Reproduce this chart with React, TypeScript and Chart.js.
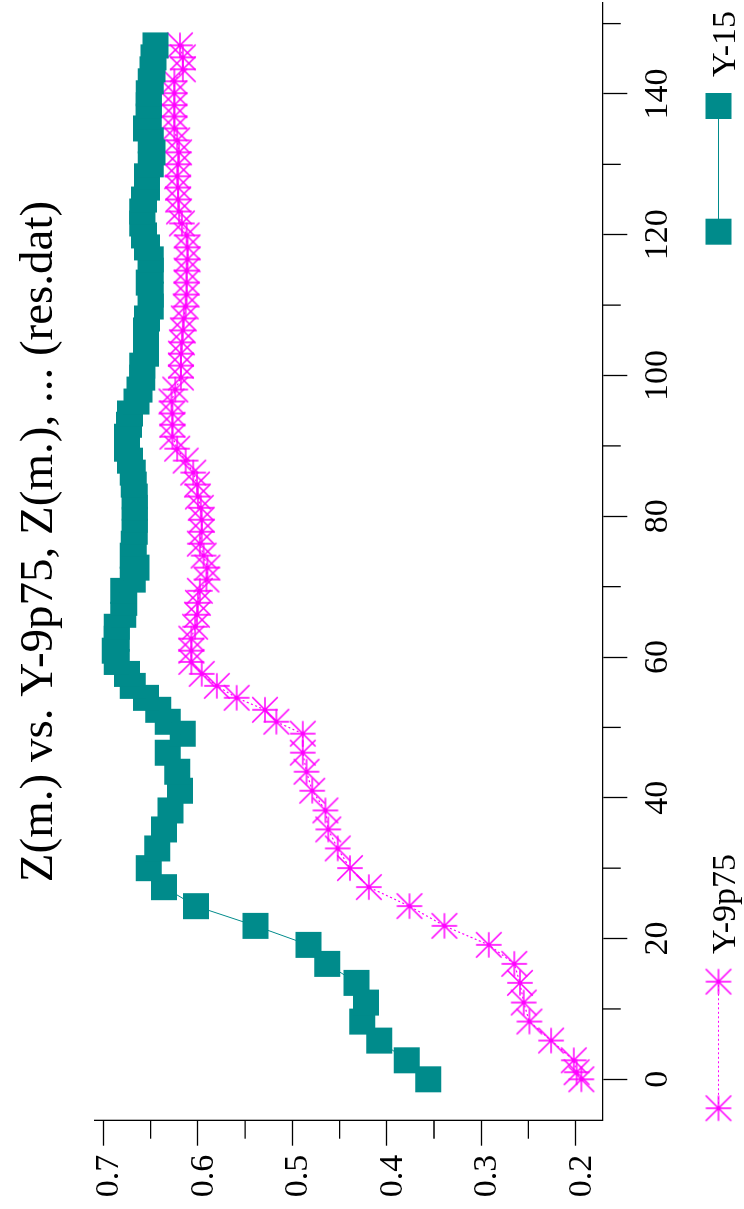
import React, { useEffect, useRef } from "react";
import { Chart, registerables } from "chart.js";
Chart.register(...registerables);

const titleText = "Z(m.) vs. Y-9p75, Z(m.), ... (res.dat)";
const seriesNames = ["Y-9p75", "Y-15"];

const zY15 = [
  0, 2.7, 5.5, 8.2, 10.9, 13.7, 16.4, 19.1, 21.8, 24.6, 27.3, 30.0, 32.8, 35.5, 38.2, 41.0, 43.7, 46.4, 49.1,
  50.8, 52.5, 54.2, 55.9, 57.6, 59.3, 60.9, 62.6, 64.3, 66.0, 67.7, 69.4, 71.0, 72.7, 74.4, 76.1, 77.8, 79.5,
  81.2, 82.8, 84.5, 86.2, 87.9, 89.6, 91.3, 93.0, 94.6, 96.3, 98.0, 99.7, 101.4, 103.1, 104.7, 106.4, 108.1,
  109.8, 111.5, 113.2, 114.9, 116.5, 118.2, 119.9, 121.6, 123.3, 125.0, 126.7, 128.3, 130.0, 131.7, 133.4,
  135.1, 136.8, 138.4, 140.1, 141.8, 143.5, 145.2, 146.9,
];
const valY15 = [
  0.356, 0.379, 0.408, 0.426, 0.422, 0.432, 0.463, 0.483, 0.539, 0.602, 0.636, 0.652, 0.643, 0.636, 0.629, 0.619, 0.622, 0.632, 0.616,
  0.632, 0.642, 0.655, 0.669, 0.675, 0.686, 0.688, 0.686, 0.686, 0.679, 0.678, 0.679, 0.669, 0.665, 0.669, 0.668, 0.667, 0.667,
  0.667, 0.667, 0.668, 0.669, 0.672, 0.675, 0.675, 0.673, 0.672, 0.665, 0.662, 0.659, 0.659, 0.655, 0.655, 0.655, 0.654,
  0.650, 0.650, 0.652, 0.650, 0.650, 0.654, 0.657, 0.659, 0.659, 0.657, 0.654, 0.654, 0.650, 0.648, 0.650,
  0.655, 0.652, 0.652, 0.652, 0.650, 0.648, 0.647, 0.645,
];

const zY9p75 = [
  0, 1.0, 2.7, 5.5, 8.2, 10.9, 13.7, 16.4, 19.1, 21.8, 24.6, 27.3, 30.0, 32.8, 35.5, 38.2, 41.0, 43.7, 46.4, 49.1,
  50.8, 52.5, 54.2, 55.9, 57.6, 59.3, 60.9, 62.6, 64.3, 66.0, 67.7, 69.4, 71.0, 72.7, 74.4, 76.1, 77.8, 79.5,
  81.2, 82.8, 84.5, 86.2, 87.9, 89.6, 91.3, 93.0, 94.6, 96.3, 98.0, 99.7, 101.4, 103.1, 104.7, 106.4, 108.1,
  109.8, 111.5, 113.2, 114.9, 116.5, 118.2, 119.9, 121.6, 123.3, 125.0, 126.7, 128.3, 130.0, 131.7, 133.4,
  135.1, 136.8, 138.4, 140.1, 141.8, 143.5, 145.2, 146.9,
];
const valY9p75 = [
  0.194, 0.199, 0.202, 0.226, 0.249, 0.255, 0.259, 0.265, 0.292, 0.339, 0.376, 0.419, 0.439, 0.452, 0.462, 0.465, 0.479, 0.485, 0.489, 0.489,
  0.517, 0.529, 0.559, 0.580, 0.596, 0.607, 0.607, 0.607, 0.603, 0.601, 0.600, 0.598, 0.591, 0.590, 0.594, 0.598, 0.596, 0.596,
  0.597, 0.600, 0.601, 0.605, 0.613, 0.622, 0.627, 0.627, 0.627, 0.628, 0.624, 0.618, 0.618, 0.618, 0.617, 0.616, 0.615,
  0.613, 0.612, 0.612, 0.612, 0.611, 0.611, 0.612, 0.617, 0.620, 0.621, 0.621, 0.622, 0.621, 0.620, 0.622,
  0.625, 0.625, 0.625, 0.625, 0.625, 0.616, 0.616, 0.619,
];

const zMajorTicks = [0, 20, 40, 60, 80, 100, 120, 140];
const zMinorTicks = [10, 30, 50, 70, 90, 110, 130, 150];
const vMajorTicks = [0.2, 0.3, 0.4, 0.5, 0.6, 0.7];
const vMinorTicks = [0.25, 0.35, 0.45, 0.55, 0.65];

const W = 1209;
const H = 744;
const TEAL = "#008b8b";
const MAGENTA = "#ff00ff";
const FONT = '"Liberation Serif", "Times New Roman", serif';

function makeStar(color: string, r: number) {
  const s = Math.ceil(r * 2 + 4);
  const c = document.createElement("canvas");
  c.width = s;
  c.height = s;
  const g = c.getContext("2d")!;
  g.strokeStyle = color;
  g.lineWidth = 1.6;
  const m = s / 2;
  g.beginPath();
  g.moveTo(m - r, m); g.lineTo(m + r, m);
  g.moveTo(m, m - r); g.lineTo(m, m + r);
  g.moveTo(m - r, m - r); g.lineTo(m + r, m + r);
  g.moveTo(m - r, m + r); g.lineTo(m + r, m - r);
  g.stroke();
  return c;
}

export default function App() {
  const ref = useRef<HTMLCanvasElement>(null);
  useEffect(() => {
    document.documentElement.style.overflow = "hidden";
    document.body.style.margin = "0";
    const star = makeStar(MAGENTA, 12.7);
    const SQ = 26;

    const decor = {
      id: "decor",
      afterDraw(chart: any) {
        const { ctx, chartArea, scales } = chart;
        const xs = scales.x;
        const ys = scales.y;
        ctx.save();
        ctx.strokeStyle = "#000";
        ctx.lineWidth = 1.3;
        ctx.beginPath();
        zMinorTicks.forEach((v) => {
          const px = xs.getPixelForValue(v);
          ctx.moveTo(px, chartArea.bottom);
          ctx.lineTo(px, chartArea.bottom + 18.5);
        });
        vMinorTicks.forEach((v) => {
          const py = ys.getPixelForValue(v);
          ctx.moveTo(chartArea.left - 18, py);
          ctx.lineTo(chartArea.left, py);
        });
        ctx.stroke();

        // title
        ctx.fillStyle = "#000";
        ctx.font = `47px ${FONT}`;
        ctx.textAlign = "center";
        ctx.textBaseline = "alphabetic";
        ctx.fillText(titleText, 667.5, 52);

        // legend
        const ly = 718.5;
        ctx.font = `34px ${FONT}`;
        ctx.textAlign = "left";
        // entry 1: Y-9p75
        ctx.strokeStyle = MAGENTA;
        ctx.lineWidth = 1.2;
        ctx.setLineDash([2, 2.5]);
        ctx.beginPath();
        ctx.moveTo(100.7, ly);
        ctx.lineTo(227.3, ly);
        ctx.stroke();
        ctx.setLineDash([]);
        [100.7, 227.3].forEach((x) => ctx.drawImage(star, x - star.width / 2, ly - star.height / 2));
        ctx.fillStyle = "#000";
        ctx.fillText(seriesNames[0], 255, 735);
        // entry 2: Y-15
        ctx.strokeStyle = TEAL;
        ctx.lineWidth = 1;
        ctx.beginPath();
        ctx.moveTo(977.3, ly);
        ctx.lineTo(1103, ly);
        ctx.stroke();
        ctx.fillStyle = TEAL;
        [977.3, 1103].forEach((x) => ctx.fillRect(x - SQ / 2, ly - SQ / 2, SQ, SQ));
        ctx.fillStyle = "#000";
        ctx.fillText(seriesNames[1], 1132, 735);
        ctx.restore();
      },
    };

    const chart = new Chart(ref.current!, {
      type: "scatter",
      data: {
        datasets: [
          {
            label: seriesNames[0],
            data: zY9p75.map((z, i) => ({ x: z, y: valY9p75[i] })),
            showLine: true,
            borderColor: MAGENTA,
            borderWidth: 1.2,
            borderDash: [2, 2.5],
            pointStyle: star as any,
            pointRadius: 13,
            order: 1,
          },
          {
            label: seriesNames[1],
            data: zY15.map((z, i) => ({ x: z, y: valY15[i] })),
            showLine: true,
            borderColor: TEAL,
            borderWidth: 1,
            pointStyle: "rect",
            pointRadius: SQ / Math.SQRT2,
            pointBackgroundColor: TEAL,
            pointBorderWidth: 0,
            order: 0,
          },
        ],
      },
      options: {
        responsive: false,
        animation: false,
        devicePixelRatio: 1,
        layout: { autoPadding: false, padding: { top: 95, right: 2.7, left: 0, bottom: 0 } },
        plugins: { legend: { display: false }, title: { display: false }, tooltip: { enabled: false } },
        scales: {
          x: {
            type: "linear",
            min: -5.88,
            max: 152.97,
            afterBuildTicks: (s: any) => {
              s.ticks = zMajorTicks.map((v) => ({ value: v }));
            },
            afterFit: (s: any) => {
              s.height = H - 602.3;
              s.paddingLeft = 0;
              s.paddingRight = 0;
            },
            grid: { display: true, drawOnChartArea: false, drawTicks: true, tickLength: 25, tickWidth: 1.3, tickColor: "#000" },
            border: { display: true, color: "#000", width: 1.3 },
            ticks: {
              autoSkip: false,
              maxRotation: 0,
              minRotation: 0,
              padding: 10.6,
              color: "#000",
              font: { family: FONT, size: 34 },
              callback: (v: any) => String(v),
            },
          },
          y: {
            type: "linear",
            min: 0.1718,
            max: 0.709,
            afterBuildTicks: (s: any) => {
              s.ticks = vMajorTicks.map((v) => ({ value: v }));
            },
            afterFit: (s: any) => {
              s.width = 88.3;
              s.paddingTop = 0;
              s.paddingBottom = 0;
            },
            grid: { display: true, drawOnChartArea: false, drawTicks: true, tickLength: 25, tickWidth: 1.3, tickColor: "#000" },
            border: { display: true, color: "#000", width: 1.3 },
            ticks: {
              autoSkip: false,
              padding: 9,
              labelOffset: 6,
              color: "#000",
              font: { family: FONT, size: 34 },
              callback: (v: any) => Number(v).toFixed(1),
            },
          },
        },
      },
      plugins: [decor],
    } as any);
    return () => chart.destroy();
  }, []);

  return (
    <div
      style={{
        position: "absolute",
        left: 0,
        top: 0,
        width: W,
        height: H,
        transformOrigin: "0 0",
        transform: `translate(0px, ${W}px) rotate(-90deg)`,
        background: "#fff",
      }}
    >
      <canvas ref={ref} width={W} height={H} style={{ display: "block", width: W, height: H }} />
    </div>
  );
}
